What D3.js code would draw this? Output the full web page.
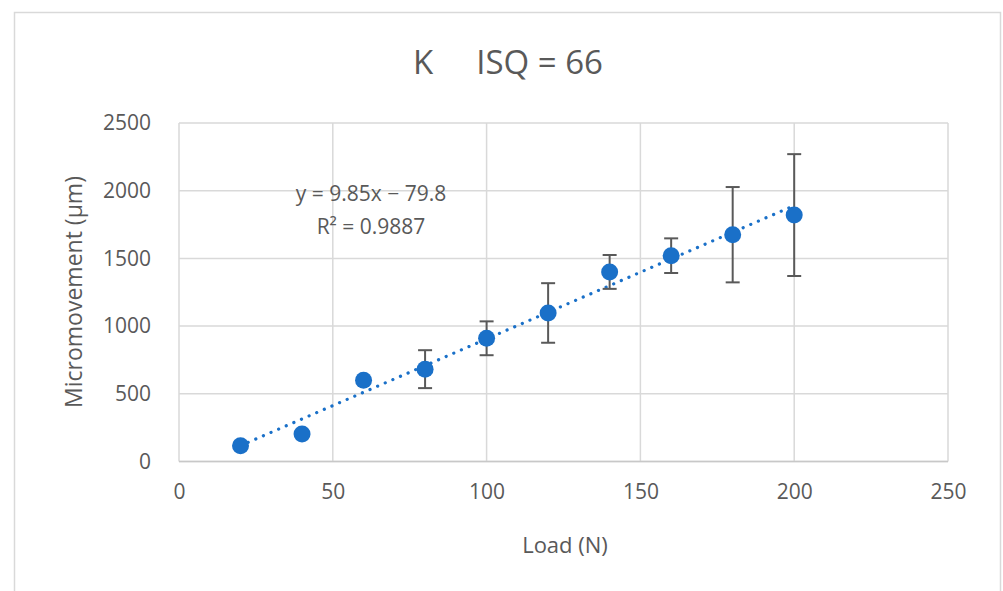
<!DOCTYPE html>
<html>
<head>
<meta charset="utf-8">
<script src="https://cdn.jsdelivr.net/npm/d3@7"></script>
<style>
  body { margin: 0; background: #fff; }
  text { font-family: "Open Sans", sans-serif; fill: #595959; }
</style>
</head>
<body>
<div id="chart"></div>
<script>
// data
const loads = [20, 40, 60, 80, 100, 120, 140, 160, 180, 200];
const micromovement = [117, 203, 600, 682, 910, 1097, 1400, 1520, 1675, 1820];
const errors = [0, 0, 0, 140, 125, 220, 125, 128, 352, 450];
const xTicks = [0, 50, 100, 150, 200, 250];
const yTicks = [0, 500, 1000, 1500, 2000, 2500];
const slope = 9.85, intercept = -79.8;
const equationText = "y = 9.85x \u2212 79.8";
const r2Text = "R\u00b2 = 0.9887";

const width = 1003, height = 591;
const plot = {left: 179, right: 948, top: 123, bottom: 461.5};

const svg = d3.select("#chart").append("svg")
    .attr("width", width)
    .attr("height", height);

// chart area border
svg.append("rect")
    .attr("x", 14.5).attr("y", 12.5)
    .attr("width", 986).attr("height", 600)
    .attr("fill", "none")
    .attr("stroke", "#d9d9d9")
    .attr("stroke-width", 1.5);

const x = d3.scaleLinear().domain([0, 250]).range([plot.left, plot.right]);
const y = d3.scaleLinear().domain([0, 2500]).range([plot.bottom, plot.top]);

// gridlines
svg.append("g")
    .selectAll("line")
    .data(yTicks)
    .enter().append("line")
    .attr("x1", x(0)).attr("x2", x(250))
    .attr("y1", d => y(d)).attr("y2", d => y(d))
    .attr("stroke", "#d9d9d9").attr("stroke-width", 1.5);

svg.append("g")
    .selectAll("line")
    .data(xTicks)
    .enter().append("line")
    .attr("x1", d => x(d)).attr("x2", d => x(d))
    .attr("y1", y(0)).attr("y2", y(2500))
    .attr("stroke", "#d9d9d9").attr("stroke-width", 1.5);

// bottom axis line
svg.append("line")
    .attr("x1", x(0)).attr("x2", x(250))
    .attr("y1", y(0)).attr("y2", y(0))
    .attr("stroke", "#c8c8c8").attr("stroke-width", 1.5);

// x axis labels
const xAxis = svg.append("g")
    .attr("transform", `translate(0, ${y(0)})`)
    .call(d3.axisBottom(x).tickValues(xTicks).tickSize(0).tickPadding(23));
xAxis.select(".domain").remove();
xAxis.selectAll("text").style("font-size", "21px").style("font-family", "Open Sans").attr("fill", "#595959");

// y axis labels
const yAxis = svg.append("g")
    .attr("transform", `translate(${x(0)}, 0)`)
    .call(d3.axisLeft(y).tickValues(yTicks).tickFormat(d3.format("d")).tickSize(0).tickPadding(28));
yAxis.select(".domain").remove();
yAxis.selectAll("text").style("font-size", "21px").style("font-family", "Open Sans").attr("fill", "#595959");

// title
svg.append("text")
    .attr("x", 508).attr("y", 74)
    .attr("text-anchor", "middle")
    .style("font-size", "33px")
    .attr("xml:space", "preserve")
    .text("K     ISQ = 66");

// axis titles
svg.append("text")
    .attr("x", 565).attr("y", 553)
    .attr("text-anchor", "middle")
    .style("font-size", "22px")
    .text("Load (N)");

svg.append("text")
    .attr("transform", `translate(82, 292) rotate(-90)`)
    .attr("text-anchor", "middle")
    .style("font-size", "23px")
    .text("Micromovement (\u00b5m)");

// trendline
const trendX = [d3.min(loads), d3.max(loads)];
svg.append("line")
    .attr("x1", x(trendX[0])).attr("y1", y(slope * trendX[0] + intercept))
    .attr("x2", x(trendX[1])).attr("y2", y(slope * trendX[1] + intercept))
    .attr("stroke", "#1a70c8")
    .attr("stroke-width", 3.2)
    .attr("stroke-linecap", "round")
    .attr("stroke-dasharray", "0.1 8.2");

// error bars
const pts = loads.map((d, i) => ({x: d, y: micromovement[i], e: errors[i]}));
const eb = svg.append("g").selectAll("g")
    .data(pts.filter(d => d.e > 0))
    .enter().append("g")
    .attr("stroke", "#595959").attr("stroke-width", 2);
eb.append("line")
    .attr("x1", d => x(d.x)).attr("x2", d => x(d.x))
    .attr("y1", d => y(d.y + d.e)).attr("y2", d => y(d.y - d.e));
eb.append("line")
    .attr("x1", d => x(d.x) - 7).attr("x2", d => x(d.x) + 7)
    .attr("y1", d => y(d.y + d.e)).attr("y2", d => y(d.y + d.e));
eb.append("line")
    .attr("x1", d => x(d.x) - 7).attr("x2", d => x(d.x) + 7)
    .attr("y1", d => y(d.y - d.e)).attr("y2", d => y(d.y - d.e));

// markers
svg.append("g").selectAll("circle")
    .data(pts)
    .enter().append("circle")
    .attr("cx", d => x(d.x))
    .attr("cy", d => y(d.y))
    .attr("r", 8.5)
    .attr("fill", "#1a70c8");

// trendline label
svg.append("text")
    .attr("x", 371).attr("y", 201)
    .attr("text-anchor", "middle")
    .style("font-size", "21px")
    .text(equationText);
svg.append("text")
    .attr("x", 371).attr("y", 234)
    .attr("text-anchor", "middle")
    .style("font-size", "21px")
    .text(r2Text);
</script>
</body>
</html>
